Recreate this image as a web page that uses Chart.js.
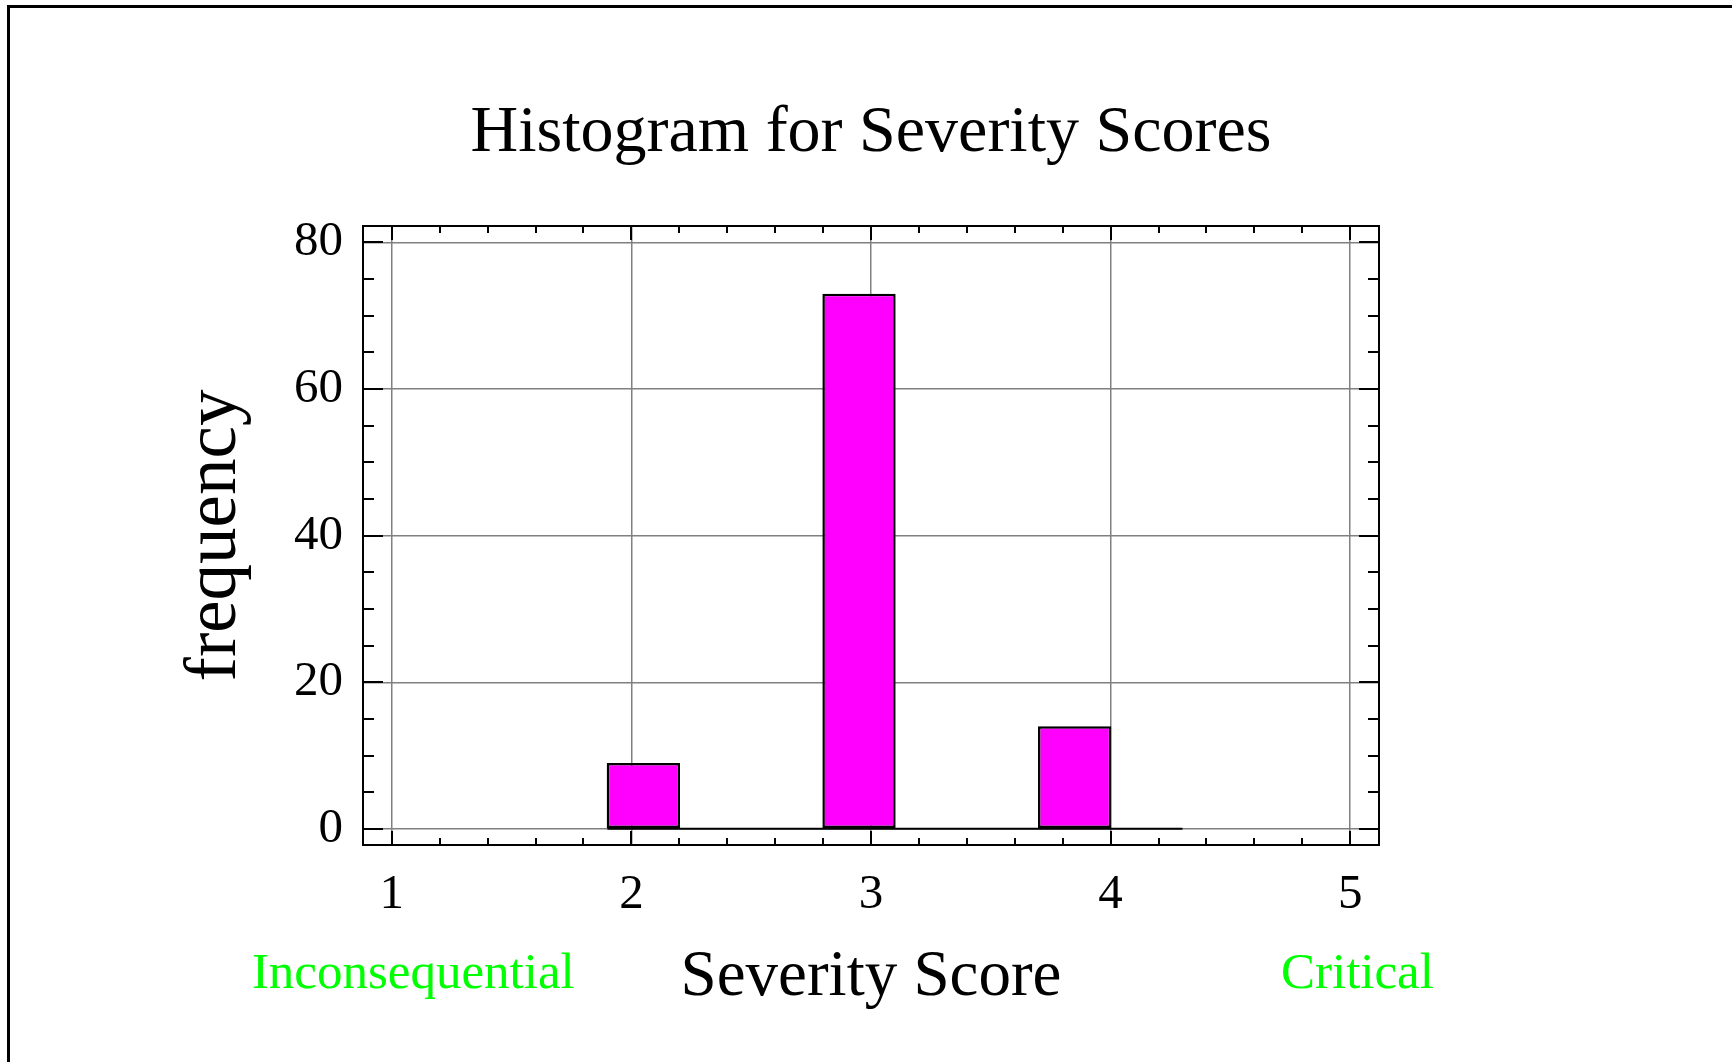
<!DOCTYPE html>
<html>
<head>
<meta charset="utf-8">
<title>Histogram for Severity Scores</title>
<script src="https://cdn.jsdelivr.net/npm/chart.js@4.4.1/dist/chart.umd.min.js"></script>
<style>
  html, body { margin: 0; padding: 0; background: #fff; }
  #wrap { position: relative; width: 1732px; height: 1062px; overflow: hidden; }
  #edge { position: absolute; left: 7px; top: 5px; right: -10px; bottom: -10px;
          border-left: 3px solid #000; border-top: 3px solid #000; }
  #severityChart { position: absolute; left: 0; top: 0; }
</style>
</head>
<body>
<div id="wrap">
  <div id="edge"></div>
  <canvas id="severityChart" width="1732" height="1062"></canvas>
</div>
<script>

// histogram bins (left edge of each bin) and counts
var binStarts = [1.9, 2.2, 2.5, 2.8, 3.1, 3.4, 3.7, 4.0];
var binWidth = 0.3;
var counts = [9, 0, 0, 73, 0, 0, 14, 0];

var xTicks = [1, 2, 3, 4, 5];
var yTicks = [0, 20, 40, 60, 80];
var endLabels = ['Inconsequential', 'Critical'];

var serif = '"Liberation Serif", "Times New Roman", serif';

function init_severity_chart(){

	if( typeof (Chart) === 'undefined'){ return; }

	var barPoints = binStarts.map(function(s, i){
		return { x: s + binWidth / 2, y: counts[i] };
	});
	var lastEdge = binStarts[binStarts.length - 1] + binWidth;
	var zeroLine = [ { x: binStarts[0], y: 0 }, { x: lastEdge, y: 0 } ];

	// frame with inward ticks on all four sides, plus the green end labels
	var framePlugin = {
		id: 'frame',
		afterDatasetsDraw: function(chart){
			var ctx = chart.ctx, a = chart.chartArea;
			var xs = chart.scales.x, ys = chart.scales.y;
			var i, p, len;
			ctx.save();
			ctx.strokeStyle = '#000';
			ctx.lineWidth = 2;
			ctx.beginPath();
			for (i = Math.ceil(xs.min * 5); i <= Math.floor(xs.max * 5); i++) {
				p = Math.round(xs.getPixelForValue(i / 5));
				len = (i % 5 === 0) ? 14 : 7;
				ctx.moveTo(p, a.bottom); ctx.lineTo(p, a.bottom - len);
				ctx.moveTo(p, a.top); ctx.lineTo(p, a.top + len);
			}
			for (i = Math.ceil(ys.min / 5); i <= Math.floor(ys.max / 5); i++) {
				p = Math.round(ys.getPixelForValue(i * 5));
				len = (i % 4 === 0) ? 20 : 11;
				ctx.moveTo(a.left, p); ctx.lineTo(a.left + len, p);
				ctx.moveTo(a.right, p); ctx.lineTo(a.right - len, p);
			}
			ctx.stroke();
			ctx.strokeRect(a.left, a.top, a.right - a.left, a.bottom - a.top);

			ctx.fillStyle = '#00ff00';
			ctx.font = '51px ' + serif;
			ctx.textAlign = 'center';
			ctx.textBaseline = 'alphabetic';
			ctx.fillText(endLabels[0], xs.getPixelForValue(1.09), a.bottom + 143);
			ctx.fillText(endLabels[1], xs.getPixelForValue(5.03), a.bottom + 143);
			ctx.restore();
		}
	};

	var chart_settings = {
		type: 'bar',
		data: {
			datasets: [{
				type: 'bar',
				data: barPoints,
				backgroundColor: '#ff00ff',
				borderColor: '#000000',
				borderWidth: 2.5,
				borderSkipped: false,
				barPercentage: 1.02,
				categoryPercentage: 1,
				order: 0
			}, {
				type: 'line',
				data: zeroLine,
				borderColor: '#000000',
				borderWidth: 2,
				pointRadius: 0,
				order: 1
			}]
		},
		options: {
			responsive: false,
			animation: false,
			layout: { padding: { left: 0, right: 353, top: 0, bottom: 0 } },
			plugins: {
				legend: { display: false },
				tooltip: { enabled: false },
				title: {
					display: true,
					text: 'Histogram for Severity Scores',
					color: '#000',
					fullSize: false,
					font: { family: serif, size: 66, weight: 'normal' },
					padding: { top: 94.4, bottom: 52.4 }
				}
			},
			scales: {
				x: {
					type: 'linear',
					min: 0.88,
					max: 5.12,
					offset: false,
					border: { display: false },
					grid: { color: '#808080', lineWidth: 1.5, drawTicks: false, offset: false },
					ticks: { color: '#000', padding: 21, font: { family: serif, size: 49 } },
					afterBuildTicks: function(scale){
						scale.ticks = xTicks.map(function(v){ return { value: v }; });
					},
					afterFit: function(scale){ scale.height = 217; },
					title: {
						display: true,
						text: 'Severity Score',
						color: '#000',
						font: { family: serif, size: 65 },
						padding: { top: 0, bottom: 45 }
					}
				},
				y: {
					type: 'linear',
					min: -2.2,
					max: 82.25,
					border: { display: false },
					grid: { color: '#808080', lineWidth: 1.5, drawTicks: false },
					ticks: { color: '#000', padding: 20, font: { family: serif, size: 49 } },
					afterBuildTicks: function(scale){
						scale.ticks = yTicks.map(function(v){ return { value: v }; });
					},
					afterFit: function(scale){ scale.width = 363; },
					title: {
						display: true,
						text: 'frequency',
						color: '#000',
						font: { family: serif, size: 73 },
						padding: { top: 172, bottom: 0 }
					}
				}
			}
		},
		plugins: [framePlugin]
	};

	var chart_element = document.getElementById('severityChart');
	var severity_chart = new Chart(chart_element, chart_settings);
}

init_severity_chart();
</script>
</body>
</html>
